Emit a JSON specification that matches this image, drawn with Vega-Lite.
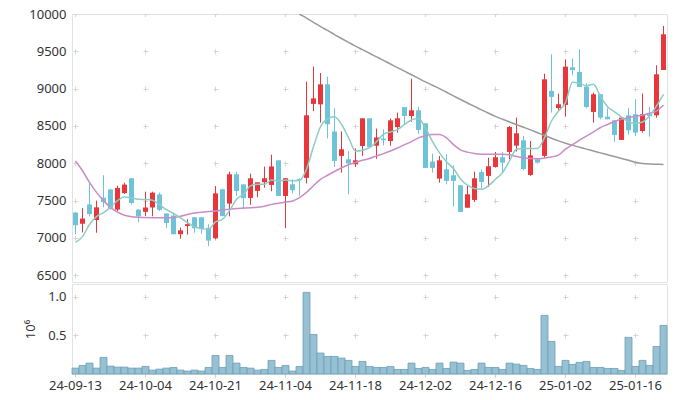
{
  "$schema": "https://vega.github.io/schema/vega-lite/v6.json",
  "padding": {"left": 24, "top": 7, "right": 9, "bottom": 10},
  "background": "white",
  "spacing": 0,
  "config": {
    "font": "Noto Sans",
    "view": {"stroke": "#e2e2e2"},
    "axis": {
      "labelFont": "Noto Sans", "labelFontSize": 13, "labelColor": "#333333",
      "titleFont": "Noto Sans", "titleFontSize": 13, "titleFontWeight": "normal", "titleColor": "#333333",
      "gridColor": "#d4d4d4", "domain": false, "ticks": false, "labelOverlap": false
    },
    "axisY": {"labelOverlap": false},
    "axisQuantitative": {"labelOverlap": false}
  },
  "data": {"values": [
    {"d":"24-09-13","o":7340,"h":7350,"l":7050,"c":7170,"v":76000,"m5":6940,"m20":8030},
    {"d":"24-09-19","o":7190,"h":7400,"l":7075,"c":7260,"v":111000,"m5":7018,"m20":7900},
    {"d":"24-09-20","o":7450,"h":7730,"l":7290,"c":7320,"v":141000,"m5":7180,"m20":7745},
    {"d":"24-09-23","o":7240,"h":7500,"l":7070,"c":7410,"v":76000,"m5":7285,"m20":7610},
    {"d":"24-09-24","o":7540,"h":7840,"l":7410,"c":7480,"v":215000,"m5":7340,"m20":7500},
    {"d":"24-09-25","o":7650,"h":7660,"l":7380,"c":7390,"v":102000,"m5":7410,"m20":7410},
    {"d":"24-09-26","o":7380,"h":7700,"l":7360,"c":7670,"v":89000,"m5":7500,"m20":7345},
    {"d":"24-09-27","o":7600,"h":7740,"l":7590,"c":7715,"v":89000,"m5":7548,"m20":7305},
    {"d":"24-09-30","o":7800,"h":7800,"l":7450,"c":7468,"v":76000,"m5":7535,"m20":7285},
    {"d":"24-10-02","o":7380,"h":7385,"l":7210,"c":7290,"v":76000,"m5":7518,"m20":7277},
    {"d":"24-10-04","o":7350,"h":7620,"l":7295,"c":7408,"v":98000,"m5":7515,"m20":7273},
    {"d":"24-10-07","o":7408,"h":7620,"l":7290,"c":7607,"v":50000,"m5":7505,"m20":7272},
    {"d":"24-10-08","o":7583,"h":7608,"l":7360,"c":7376,"v":63000,"m5":7445,"m20":7272},
    {"d":"24-10-10","o":7328,"h":7330,"l":7130,"c":7200,"v":76000,"m5":7380,"m20":7270},
    {"d":"24-10-11","o":7300,"h":7340,"l":7050,"c":7050,"v":85000,"m5":7330,"m20":7275},
    {"d":"24-10-14","o":7050,"h":7140,"l":6990,"c":7102,"v":50000,"m5":7270,"m20":7290},
    {"d":"24-10-15","o":7160,"h":7250,"l":7045,"c":7185,"v":38000,"m5":7205,"m20":7315},
    {"d":"24-10-16","o":7277,"h":7280,"l":7070,"c":7130,"v":50000,"m5":7152,"m20":7335},
    {"d":"24-10-17","o":7277,"h":7280,"l":7058,"c":7118,"v":38000,"m5":7125,"m20":7345},
    {"d":"24-10-18","o":7136,"h":7183,"l":6890,"c":6965,"v":85000,"m5":7116,"m20":7355},
    {"d":"24-10-21","o":6998,"h":7695,"l":6982,"c":7598,"v":240000,"m5":7215,"m20":7362},
    {"d":"24-10-22","o":7652,"h":7660,"l":7290,"c":7295,"v":85000,"m5":7250,"m20":7375},
    {"d":"24-10-23","o":7460,"h":7888,"l":7290,"c":7853,"v":240000,"m5":7365,"m20":7385},
    {"d":"24-10-24","o":7853,"h":7886,"l":7563,"c":7630,"v":141000,"m5":7518,"m20":7395},
    {"d":"24-10-25","o":7717,"h":7717,"l":7384,"c":7534,"v":85000,"m5":7585,"m20":7400},
    {"d":"24-10-28","o":7536,"h":7860,"l":7445,"c":7799,"v":76000,"m5":7697,"m20":7405},
    {"d":"24-10-29","o":7630,"h":7746,"l":7547,"c":7746,"v":50000,"m5":7719,"m20":7412},
    {"d":"24-10-30","o":7746,"h":7956,"l":7674,"c":7799,"v":59000,"m5":7719,"m20":7425},
    {"d":"24-10-31","o":7710,"h":8115,"l":7625,"c":7958,"v":176000,"m5":7775,"m20":7450},
    {"d":"24-11-01","o":8040,"h":8040,"l":7563,"c":7563,"v":85000,"m5":7765,"m20":7465},
    {"d":"24-11-04","o":7563,"h":7800,"l":7130,"c":7800,"v":111000,"m5":7775,"m20":7480},
    {"d":"24-11-05","o":7719,"h":7786,"l":7596,"c":7639,"v":38000,"m5":7765,"m20":7495,"ma":10058},
    {"d":"24-11-06","o":7790,"h":7800,"l":7565,"c":7775,"v":98000,"m5":7773,"m20":7540,"ma":10000},
    {"d":"24-11-07","o":7805,"h":9094,"l":7730,"c":8643,"v":1057000,"m5":7920,"m20":7610,"ma":9945},
    {"d":"24-11-08","o":8795,"h":9295,"l":8700,"c":8870,"v":512000,"m5":8225,"m20":7700,"ma":9888},
    {"d":"24-11-11","o":8790,"h":9210,"l":8545,"c":9058,"v":271000,"m5":8490,"m20":7786,"ma":9830},
    {"d":"24-11-12","o":9058,"h":9161,"l":8333,"c":8523,"v":227000,"m5":8597,"m20":7840,"ma":9780},
    {"d":"24-11-13","o":8427,"h":8737,"l":7953,"c":8032,"v":227000,"m5":8625,"m20":7890,"ma":9725},
    {"d":"24-11-14","o":8099,"h":8427,"l":7875,"c":8188,"v":206000,"m5":8523,"m20":7940,"ma":9672},
    {"d":"24-11-15","o":8054,"h":8165,"l":7585,"c":7998,"v":176000,"m5":8344,"m20":7980,"ma":9620},
    {"d":"24-11-18","o":7987,"h":8200,"l":7951,"c":8040,"v":98000,"m5":8165,"m20":8010,"ma":9570},
    {"d":"24-11-19","o":8232,"h":8603,"l":8100,"c":8603,"v":163000,"m5":8176,"m20":8040,"ma":9522},
    {"d":"24-11-20","o":8603,"h":8603,"l":8220,"c":8220,"v":98000,"m5":8210,"m20":8065,"ma":9474},
    {"d":"24-11-21","o":8236,"h":8466,"l":8060,"c":8346,"v":85000,"m5":8290,"m20":8100,"ma":9426},
    {"d":"24-11-22","o":8330,"h":8455,"l":8240,"c":8310,"v":85000,"m5":8390,"m20":8130,"ma":9378},
    {"d":"24-11-25","o":8299,"h":8600,"l":8236,"c":8576,"v":98000,"m5":8420,"m20":8165,"ma":9330},
    {"d":"24-11-26","o":8485,"h":8679,"l":8411,"c":8603,"v":59000,"m5":8450,"m20":8205,"ma":9282},
    {"d":"24-11-27","o":8752,"h":8752,"l":8520,"c":8634,"v":59000,"m5":8520,"m20":8250,"ma":9234},
    {"d":"24-11-28","o":8634,"h":9134,"l":8556,"c":8710,"v":141000,"m5":8580,"m20":8290,"ma":9186},
    {"d":"24-11-29","o":8710,"h":8759,"l":8395,"c":8447,"v":72000,"m5":8600,"m20":8340,"ma":9138},
    {"d":"24-12-02","o":8536,"h":8536,"l":7938,"c":7938,"v":85000,"m5":8470,"m20":8370,"ma":9090},
    {"d":"24-12-03","o":8023,"h":8130,"l":7875,"c":7938,"v":59000,"m5":8290,"m20":8385,"ma":9045},
    {"d":"24-12-04","o":7795,"h":8098,"l":7741,"c":8040,"v":141000,"m5":8140,"m20":8385,"ma":9000},
    {"d":"24-12-05","o":7920,"h":8121,"l":7719,"c":7764,"v":72000,"m5":8020,"m20":8340,"ma":8952},
    {"d":"24-12-06","o":7840,"h":7973,"l":7420,"c":7764,"v":154000,"m5":7930,"m20":8250,"ma":8903},
    {"d":"24-12-09","o":7706,"h":7706,"l":7349,"c":7349,"v":141000,"m5":7790,"m20":8180,"ma":8855},
    {"d":"24-12-10","o":7405,"h":7697,"l":7405,"c":7585,"v":46000,"m5":7708,"m20":8150,"ma":8808},
    {"d":"24-12-11","o":7509,"h":7889,"l":7482,"c":7799,"v":59000,"m5":7661,"m20":8130,"ma":8762},
    {"d":"24-12-12","o":7884,"h":7920,"l":7661,"c":7750,"v":141000,"m5":7652,"m20":8120,"ma":8715},
    {"d":"24-12-13","o":7831,"h":8076,"l":7683,"c":7960,"v":85000,"m5":7700,"m20":8120,"ma":8670},
    {"d":"24-12-16","o":7951,"h":8152,"l":7942,"c":8081,"v":85000,"m5":7786,"m20":8120,"ma":8628},
    {"d":"24-12-17","o":8081,"h":8152,"l":7862,"c":8009,"v":59000,"m5":7875,"m20":8120,"ma":8590},
    {"d":"24-12-18","o":8152,"h":8500,"l":8054,"c":8487,"v":141000,"m5":8032,"m20":8115,"ma":8553},
    {"d":"24-12-19","o":8237,"h":8612,"l":8157,"c":8402,"v":128000,"m5":8188,"m20":8090,"ma":8518},
    {"d":"24-12-20","o":8308,"h":8366,"l":7907,"c":7924,"v":111000,"m5":8197,"m20":8075,"ma":8483},
    {"d":"24-12-23","o":7844,"h":8299,"l":7831,"c":8107,"v":72000,"m5":8197,"m20":8063,"ma":8448},
    {"d":"24-12-24","o":8054,"h":8072,"l":7996,"c":8009,"v":59000,"m5":8197,"m20":8062,"ma":8410},
    {"d":"24-12-26","o":8099,"h":9201,"l":8076,"c":9125,"v":759000,"m5":8344,"m20":8070,"ma":8372},
    {"d":"24-12-27","o":8969,"h":9460,"l":8679,"c":8889,"v":422000,"m5":8567,"m20":8085,"ma":8335},
    {"d":"24-12-30","o":8740,"h":8933,"l":8715,"c":8791,"v":98000,"m5":8700,"m20":8110,"ma":8300},
    {"d":"25-01-02","o":8782,"h":9393,"l":8625,"c":9295,"v":176000,"m5":8813,"m20":8190,"ma":8268},
    {"d":"25-01-03","o":9286,"h":9402,"l":9179,"c":9250,"v":124000,"m5":9085,"m20":8250,"ma":8240},
    {"d":"25-01-06","o":9224,"h":9527,"l":9023,"c":9023,"v":150000,"m5":9072,"m20":8310,"ma":8215},
    {"d":"25-01-07","o":9027,"h":9072,"l":8737,"c":8755,"v":163000,"m5":9040,"m20":8365,"ma":8190},
    {"d":"25-01-08","o":8688,"h":8947,"l":8545,"c":8925,"v":85000,"m5":9058,"m20":8420,"ma":8165},
    {"d":"25-01-09","o":8925,"h":8925,"l":8590,"c":8612,"v":85000,"m5":8893,"m20":8480,"ma":8140},
    {"d":"25-01-10","o":8625,"h":8737,"l":8590,"c":8590,"v":72000,"m5":8759,"m20":8520,"ma":8115},
    {"d":"25-01-13","o":8576,"h":8576,"l":8290,"c":8380,"v":72000,"m5":8690,"m20":8560,"ma":8090},
    {"d":"25-01-14","o":8313,"h":8621,"l":8313,"c":8612,"v":46000,"m5":8620,"m20":8590,"ma":8065},
    {"d":"25-01-15","o":8643,"h":8737,"l":8384,"c":8442,"v":474000,"m5":8554,"m20":8610,"ma":8040},
    {"d":"25-01-16","o":8657,"h":8857,"l":8366,"c":8411,"v":98000,"m5":8536,"m20":8630,"ma":8015},
    {"d":"25-01-17","o":8433,"h":8933,"l":8411,"c":8657,"v":176000,"m5":8554,"m20":8645,"ma":7998},
    {"d":"25-01-20","o":8657,"h":8755,"l":8357,"c":8634,"v":111000,"m5":8634,"m20":8670,"ma":7990},
    {"d":"25-01-21","o":8643,"h":9313,"l":8612,"c":9192,"v":356000,"m5":8768,"m20":8700,"ma":7987},
    {"d":"25-01-22","o":9250,"h":9840,"l":9250,"c":9728,"v":629000,"m5":8925,"m20":8780,"ma":7985}
  ]},
  "vconcat": [
    {
      "width": 595,
      "height": 268,
      "encoding": {
        "x": {
          "field": "d", "type": "ordinal", "sort": null,
          "scale": {"paddingInner": 0, "paddingOuter": 0},
          "axis": {
            "labels": false, "title": null, "grid": true, "bandPosition": 0.5,
            "values": ["24-09-13","24-10-04","24-10-21","24-11-04","24-11-18","24-12-02","24-12-16","25-01-02","25-01-16"],
            "gridDash": [5, 32.326], "gridDashOffset": 2.5
          }
        },
        "y": {
          "field": "l", "type": "quantitative",
          "scale": {"domain": [6410, 10000], "nice": false, "zero": false},
          "axis": {"title": null, "format": "d", "tickCount": 8, "labelOverlap": false, "labelPadding": 6, "grid": true, "gridDash": [5, 65], "gridDashOffset": 69}
        }
      },
      "layer": [
        {
          "mark": {"type": "rule", "strokeWidth": 1},
          "encoding": {
            "y2": {"field": "h"},
            "color": {"condition": {"test": "datum.c >= datum.o", "value": "#e9363b"}, "value": "#6ec3d8"}
          }
        },
        {
          "mark": {"type": "bar", "size": 5},
          "encoding": {
            "y": {"field": "o", "type": "quantitative"},
            "y2": {"field": "c"},
            "color": {"condition": {"test": "datum.c >= datum.o", "value": "#e9363b"}, "value": "#6ec3d8"}
          }
        },
        {
          "transform": [{"filter": "isValid(datum.ma)"}],
          "mark": {"type": "line", "color": "#9a9a9a", "strokeWidth": 1.5, "interpolate": "monotone", "clip": true},
          "encoding": {"y": {"field": "ma", "type": "quantitative"}}
        },
        {
          "mark": {"type": "line", "color": "#c98cc6", "strokeWidth": 1.5, "interpolate": "monotone"},
          "encoding": {"y": {"field": "m20", "type": "quantitative"}}
        },
        {
          "mark": {"type": "line", "color": "#8ccdc5", "strokeWidth": 1.5, "interpolate": "monotone"},
          "encoding": {"y": {"field": "m5", "type": "quantitative"}}
        },
        {
          "data": {"values": [{"t": "Leopard.InfoPointer.com"}]},
          "mark": {"type": "text", "font": "Open Sans", "fontSize": 29, "color": "#c7dbe6", "align": "right", "baseline": "alphabetic"},
          "encoding": {
            "x": {"datum": "25-01-21"},
            "y": {"datum": 6625, "type": "quantitative"},
            "text": {"field": "t"}
          }
        }
      ]
    },
    {
      "width": 595,
      "height": 90,
      "mark": {"type": "bar", "fill": "#97c0d3", "stroke": "#6a9fb6", "strokeWidth": 0.8},
      "encoding": {
        "x": {
          "field": "d", "type": "ordinal", "sort": null,
          "scale": {"paddingInner": 0, "paddingOuter": 0},
          "axis": {
            "title": null, "labelAngle": 0, "ticks": true, "tickSize": 3, "tickColor": "#cccccc", "labelPadding": 2,
            "grid": true, "bandPosition": 0.5, "gridDash": [5, 33.625], "gridDashOffset": 28.375,
            "values": ["24-09-13","24-10-04","24-10-21","24-11-04","24-11-18","24-12-02","24-12-16","25-01-02","25-01-16"]
          }
        },
        "y": {
          "field": "v", "type": "quantitative", "scale": {"domain": [0, 1165000], "nice": false},
          "axis": {"values": [500000, 1000000], "labelExpr": "format(datum.value/1000000, '.1f')", "title": "10⁶", "titlePadding": 10, "labelPadding": 6,
            "grid": true, "gridDash": [5, 65], "gridDashOffset": 69}
        }
      }
    }
  ]
}
